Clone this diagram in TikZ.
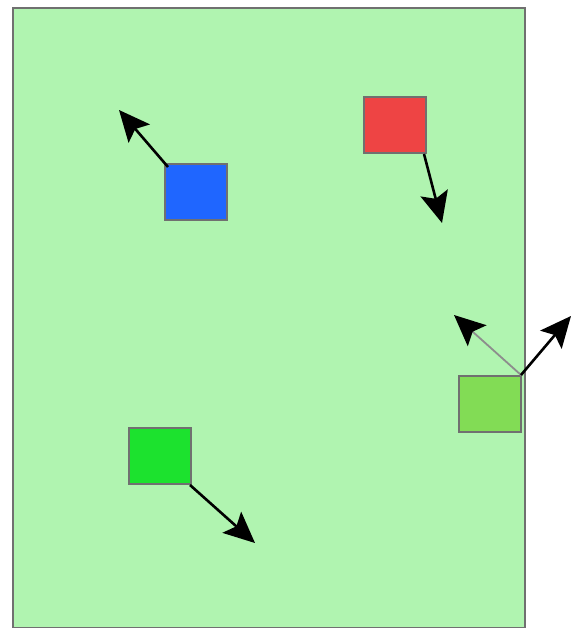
\documentclass[tikz,border=0pt]{standalone}
\usetikzlibrary{arrows.meta}
\definecolor{fieldgreen}{HTML}{B0F4B0}
\definecolor{edgegray}{HTML}{707070}
\definecolor{boxblue}{HTML}{1F66FF}
\definecolor{boxred}{HTML}{EE4444}
\definecolor{boxgreen}{HTML}{1CE22E}
\definecolor{boxlime}{HTML}{82DC55}
\begin{document}
\begin{tikzpicture}[x=1pt,y=-1pt,
  block/.style={draw=edgegray,line width=2pt,minimum width=62pt,minimum height=56pt,inner sep=0pt,anchor=north west},
  vec/.style={line width=2.6pt,-{Stealth[length=31pt,width=28pt,inset=6pt]}},
  faintvec/.style={vec,draw=edgegray!80,line width=1.8pt,-{Stealth[length=31pt,width=28pt,inset=6pt,fill=black,color=black]}}]
\useasboundingbox (0,0) rectangle (571,628);
% playing field
\node[draw=edgegray,fill=fieldgreen,line width=2pt,minimum width=512pt,minimum height=620pt,inner sep=0pt,anchor=north west] (field) at (12,7) {};
% blocks
\node[block,fill=boxblue] (blue) at (164,163) {};
\node[block,fill=boxred] (red) at (363,96) {};
\node[block,fill=boxlime] (lime) at (458,375) {};
\node[block,fill=boxgreen] (green) at (128,427) {};
% arrow tips
\coordinate (blueTip) at (119,110);
\coordinate (redTip) at (442,223);
\coordinate (limeTipA) at (454,315);
\coordinate (limeTipB) at (571,316);
\coordinate (greenTip) at (255,543);
% velocity arrows
\draw[vec] ([shift={(4,4)}]blue.north west) -- (blueTip);
\draw[vec] ([shift={(-3,0)}]red.south east) -- (redTip);
\draw[faintvec] ([shift={(-1,0)}]lime.north east) -- (limeTipA);
\draw[vec] ([shift={(-1,0)}]lime.north east) -- (limeTipB);
\draw[vec] ([shift={(-2,0)}]green.south east) -- (greenTip);
\end{tikzpicture}
\end{document}
